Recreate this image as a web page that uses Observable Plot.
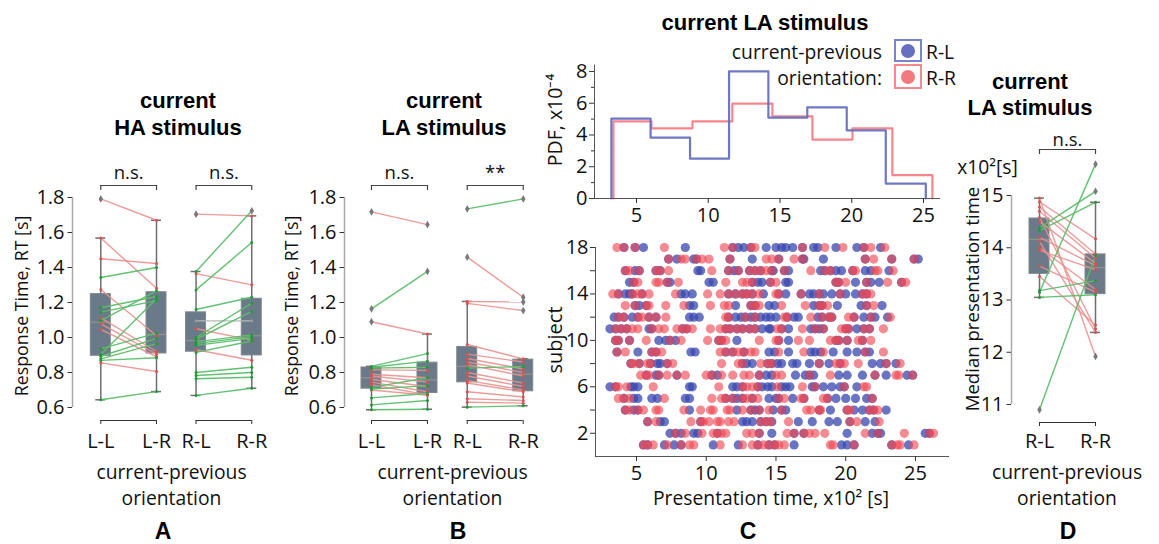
<!DOCTYPE html>
<html><head><meta charset="utf-8">
<script src="https://cdn.jsdelivr.net/npm/d3@7"></script>
<script src="https://cdn.jsdelivr.net/npm/@observablehq/plot@0.6"></script>
<style>
body{margin:0;background:#fff;}
#root{position:relative;width:1159px;height:544px;overflow:hidden;background:#fff;font-family:"Open Sans",sans-serif;color:#111;}
.t{position:absolute;white-space:nowrap;transform:translate(-50%,-50%);line-height:1;text-align:center;}
.title{font-family:"Liberation Sans",Arial,sans-serif;font-weight:bold;font-size:22px;line-height:27px;color:#000;}
.lab{font-size:19.3px;line-height:26px;}
.ylab{font-size:17.8px;transform:translate(-50%,-50%) rotate(-90deg);}
.letter{font-family:"Liberation Sans",Arial,sans-serif;font-weight:bold;font-size:23px;color:#000;}
.right{transform:translate(-100%,-50%);text-align:right;}
.left{transform:translate(0,-50%);text-align:left;}
</style></head><body><div id="root"></div>
<script>
// ---------- data ----------
const catsAB = ["L-L", "L-R", "R-L", "R-R"];
const catsD = ["R-L", "R-R"];
const rtTicks = [0.6, 0.8, 1.0, 1.2, 1.4, 1.6, 1.8];
const medTicks = [11, 12, 13, 14, 15];
const pdfTicks = [0, 2, 4, 6, 8];
const pdfMinorTicks = [1, 3, 5, 7];
const timeTicks = [5, 10, 15, 20, 25];
const subjectTicks = [2, 4, 6, 8, 10, 12, 14, 16, 18];
const subjectLabels = [2, 6, 10, 14, 18];
const sigA = ["n.s.", "n.s."];
const sigB = ["n.s.", "**"];
const sigD = ["n.s."];

// Panel A: response time, current HA stimulus (one value per subject)
const A_LL = [1.792,1.568,1.45,1.343,1.274,1.170,1.145,1.112,1.097,1.078,1.046,0.935,0.903,0.893,0.878,0.869,0.855,0.644];
const A_LR = [1.67,1.282,1.423,1.40,1.01,1.234,1.211,0.92,1.267,0.905,0.89,1.025,1.221,0.995,0.965,0.884,0.806,0.691];
const A_RL = [1.705,1.377,1.365,1.272,1.160,1.095,1.050,1.000,0.990,0.975,0.965,0.955,0.930,0.915,0.800,0.783,0.764,0.669];
const A_RR = [1.695,1.724,1.301,1.543,1.230,1.095,0.985,1.196,1.149,1.015,1.005,0.995,0.870,0.980,0.830,0.800,0.773,0.710];
// Panel B: response time, current LA stimulus
const B_LL = [1.718,1.164,1.090,0.835,0.830,0.825,0.815,0.790,0.780,0.760,0.745,0.730,0.715,0.705,0.700,0.655,0.615,0.587];
const B_LR = [1.645,1.378,1.020,0.908,0.865,0.830,0.812,0.770,0.745,0.720,0.690,0.672,0.770,0.725,0.670,0.680,0.640,0.590];
const B_RL = [1.735,1.459,1.206,1.195,0.960,0.905,0.880,0.860,0.825,0.845,0.800,0.780,0.755,0.740,0.690,0.650,0.630,0.602];
const B_RR = [1.792,1.230,1.203,1.154,0.878,0.860,0.820,0.800,0.834,0.780,0.740,0.720,0.700,0.690,0.660,0.640,0.625,0.610];
// Panel D: median presentation time (x10^2 s)
const D_RL = [10.90,13.05,13.15,13.18,13.45,13.65,13.95,14.00,14.12,14.20,14.33,14.38,14.50,14.58,14.70,14.78,14.88,14.95];
const D_RR = [13.85,13.10,15.60,13.37,12.52,13.15,13.58,13.20,12.38,13.66,14.87,15.08,13.70,12.45,13.80,13.88,14.17,11.92];
// Panel C histogram (bin edges, x10^2 s; PDF x10^-4)
const histEdgesRL = [3.25,5.98,8.73,11.45,14.19,16.9,19.65,22.37,25.16];
const histPdfRL = [5.03,3.83,2.51,8.0,5.09,5.74,4.29,0.94];
const histEdgesRR = [3.39,6.04,8.9,11.68,14.47,17.26,20.05,22.83,25.62];
const histPdfRR = [4.86,4.42,4.86,5.97,5.17,3.71,4.42,1.47];
// Panel C scatter: presentation times per subject (index 0 = subject 1)
const scatterRL = [
 [5.5,5.8,7.0,7.7,8.2,10.5,12.3,13.7,14.5,14.9,16.3,19.7,20.1,20.6,23.3,24.5],
 [7.4,7.8,8.2,9.1,9.4,10.8,13.8,14.7,16.3,17.0,20.1,21.9,22.3,22.5,25.7,26.0],
 [5.8,6.7,7.0,9.6,12.6,12.9,13.3,13.9,14.3,14.7,16.6,17.6,18.8,19.4,20.3,21.4,22.1],
 [4.2,4.8,5.1,8.8,12.2,13.2,13.5,13.8,14.8,15.4,15.7,18.1,18.9,20.1,20.6,21.2,21.7,22.0,22.9],
 [4.1,4.8,5.1,6.1,6.5,8.5,8.8,11.4,11.9,12.2,12.6,13.3,14.5,15.0,15.2,16.2,17.0,18.7,19.3,20.0,20.7,21.5,21.9],
 [3.1,3.5,4.6,4.8,5.1,8.8,9.0,11.9,12.2,12.6,13.7,14.0,14.4,14.7,15.4,15.7,16.0,17.6,17.8,18.4,19.0,19.6,19.9,20.8],
 [5.7,6.4,6.6,7.9,10.4,10.8,13.8,14.3,14.7,16.4,17.1,17.4,17.7,19.5,20.1,21.2,22.1,22.9,24.4,24.8],
 [4.6,5.2,6.0,6.5,6.7,7.2,12.6,12.9,13.3,14.4,14.7,15.1,15.4,16.2,16.5,17.4,18.1,18.8,19.6,21.9,22.5,22.9,23.6],
 [3.6,5.1,6.1,6.4,8.9,9.2,11.4,11.9,12.7,14.5,14.9,15.9,17.5,17.8,18.2,19.1,20.1,20.8,21.4,21.7],
 [3.5,3.7,4.5,6.6,7.1,7.4,7.8,10.9,11.1,12.2,15.2,15.9,19.3,19.5,20.1,21.2],
 [3.1,3.5,3.9,4.3,5.9,6.1,8.3,8.6,11.4,11.7,12.2,12.6,13.1,13.5,14.0,14.5,14.6,15.4,15.9,17.5,17.8,18.1,18.4,20.0,20.2,20.8,21.3,21.7],
 [3.4,3.7,4.1,4.7,5.1,5.9,6.4,8.8,9.1,9.5,11.6,12.1,12.5,12.8,13.2,13.5,13.9,14.3,14.6,15.0,15.8,16.3,16.6,18.0,18.3,18.8,19.0,20.6,21.3,21.8,22.1,23.0],
 [4.9,5.2,5.7,8.8,9.1,12.1,13.2,13.5,14.5,14.9,17.7,18.1,18.3,19.4,21.1,21.5,22.6],
 [3.7,4.2,4.5,4.7,5.4,8.2,8.5,9.0,11.6,12.1,12.6,12.9,13.3,14.1,15.2,15.7,16.8,17.4,17.7,18.1,18.4,19.0,19.6,20.0,20.7,21.2,21.5],
 [4.5,4.8,7.2,7.4,10.2,10.5,13.3,13.7,14.0,14.6,15.7,15.9,19.3,19.5,20.7,21.5,21.8,22.4,24.0],
 [4.2,4.9,5.2,6.4,6.7,9.4,9.6,11.6,12.0,12.3,13.1,13.5,13.9,14.7,14.8,15.6,15.9,18.2,18.5,18.9,19.3,19.7,20.5,21.4,21.8,23.1],
 [7.3,7.9,9.1,9.3,11.7,13.3,15.2,16.9,17.0,18.4,21.4,23.3,24.9,25.2],
 [4.1,4.9,5.5,8.5,11.9,12.3,12.7,13.2,14.3,15.0,15.4,15.7,16.2,16.9,17.7,18.0,19.3,20.8,21.3,22.5]
];
const scatterRR = [
 [5.5,5.8,6.2,7.2,8.2,8.8,9.1,11.0,12.6,13.3,13.7,14.1,14.5,14.9,15.2,15.6,18.9,19.1,20.6,23.3,23.7,23.9,24.9],
 [7.8,8.5,9.7,10.5,10.8,11.1,11.4,12.9,13.3,13.8,15.8,16.3,17.0,17.4,17.8,18.5,21.4,22.3,24.2,26.0,26.3],
 [5.8,6.4,8.9,9.6,9.8,10.2,10.8,11.0,11.6,12.0,13.9,14.3,14.6,15.9,20.3,20.8,22.4],
 [4.2,4.5,5.1,5.5,6.4,6.6,8.4,9.6,10.3,10.5,11.5,11.7,12.6,13.2,13.8,14.5,15.4,17.2,17.5,18.1,18.2,20.1,20.3,21.7,22.0,22.3],
 [3.7,4.1,4.5,7.0,10.4,11.1,11.4,11.9,12.6,12.9,13.3,13.7,15.2,15.6,16.8,17.0,18.4,18.7,21.9],
 [3.5,3.7,4.3,6.2,10.9,12.6,12.9,13.3,13.7,15.1,16.9,17.8,19.9,21.3,21.5],
 [5.3,5.7,5.9,6.6,7.2,7.9,8.5,10.0,10.4,11.1,11.9,12.7,13.1,13.8,15.0,15.4,17.4,18.9,22.1,23.6,23.8,24.8],
 [4.6,4.8,5.2,5.8,6.0,7.2,7.6,11.1,12.3,12.6,13.9,14.4,14.7,18.1,19.3,19.6,19.9,20.9,22.9,23.9],
 [3.6,4.2,6.1,6.4,6.8,11.0,11.4,11.9,12.3,12.7,13.2,13.5,15.2,17.0,18.4,21.4,22.7],
 [3.5,3.7,4.5,5.7,7.4,8.2,10.1,10.9,11.1,11.4,13.8,15.0,15.2,16.6,17.4,18.9,19.3,19.5,20.1,20.9,21.2,21.8],
 [3.5,3.9,4.3,4.7,5.1,6.1,6.6,7.0,7.9,8.3,8.6,9.0,10.3,11.0,11.4,11.7,12.2,12.6,13.1,13.5,15.1,15.4,16.9,17.8,18.4,19.7,20.0,20.2,21.3,21.7,22.7],
 [3.7,4.1,5.1,5.4,5.9,6.4,7.1,11.4,11.6,12.8,13.5,15.6,15.8,17.5,18.3,18.8,19.0,20.2,20.6,21.8,23.2],
 [4.2,4.9,5.7,5.9,7.1,8.4,10.3,11.3,11.6,13.2,13.5,13.8,15.4,17.1,18.1,18.3,18.7,21.5,22.0],
 [3.3,3.7,4.7,5.1,5.4,5.9,7.8,10.1,11.0,11.6,12.1,12.6,12.9,13.3,13.8,15.0,15.2,16.8,18.1,19.6,21.2,21.5,21.8],
 [4.8,5.1,6.4,6.6,7.2,8.0,11.4,12.6,12.9,13.3,14.6,15.0,19.3,19.5,20.0,21.5,23.0,24.0,24.3],
 [4.2,4.5,5.2,6.4,6.7,7.3,10.4,11.6,12.3,13.1,13.5,13.9,14.3,14.7,15.6,17.5,18.5,18.9,20.5,20.7,22.1,22.3,23.4],
 [7.3,8.2,8.5,9.3,9.7,10.2,11.7,14.3,14.7,15.2,16.3,16.9,21.4,22.0,23.3,24.9],
 [3.6,4.1,4.9,7.0,11.3,11.9,13.2,13.5,16.9,18.5,19.8,21.3,21.8,22.8]
];

// ---------- style ----------
const RED_LINE = "#e8918f", GREEN_LINE = "#5cbd6b", GREY_LINE = "#b8b8b8";
const RED_DOT = "#de4f4f", GREEN_DOT = "#23993b";
const BOX_FILL = "#6b7a88", BOX_STROKE = "#7f878f", WHISKER = "#6e6e6e", OUTLIER = "#7a7a7a";
const AXIS = "#333", SPINE = "#a8a8a8";
const RL_COLOR = "#6670c0", RR_COLOR = "#f27a7f";
const RL_DOT = "#3a48b0", RR_DOT = "#f04a55";
const FONT = '"Open Sans", sans-serif';
const TICK_FS = 20, SIG_FS = 18.5;
const GAP = 0.71;
const baseStyle = {fontFamily: FONT, fontSize: TICK_FS + "px", background: "transparent", overflow: "visible", color: "#111"};

const root = document.getElementById("root");
function place(el, left, top) {
  el.style.position = "absolute"; el.style.left = left + "px"; el.style.top = top + "px";
  root.appendChild(el);
}
function label(html, x, y, cls, extra) {
  const d = document.createElement("div");
  d.className = "t " + cls; d.innerHTML = html;
  d.style.left = x + "px"; d.style.top = y + "px";
  if (extra) Object.assign(d.style, extra);
  root.appendChild(d);
  return d;
}
const thinDiamond = {draw(ctx, size) {
  const r = Math.sqrt(size / Math.PI);
  ctx.moveTo(0, -1.3 * r); ctx.lineTo(0.75 * r, 0); ctx.lineTo(0, 1.3 * r); ctx.lineTo(-0.75 * r, 0); ctx.closePath();
}};

function stats(v) {
  const s = d3.sort(v);
  const q1 = d3.quantile(s, 0.25), med = d3.quantile(s, 0.5), q3 = d3.quantile(s, 0.75);
  const iqr = q3 - q1;
  const inside = s.filter(d => d >= q1 - 1.5 * iqr && d <= q3 + 1.5 * iqr);
  const lo = d3.min(inside), hi = d3.max(inside);
  return {q1, med, q3, lo, hi, out: s.filter(d => d < lo || d > hi)};
}

function boxPanel(c) {
  const innerW = c.width - c.mL - c.mR, innerH = c.height - c.mT - c.mB;
  const ux = innerW / (c.xDomain[1] - c.xDomain[0]);
  const uy = (c.yDomain[1] - c.yDomain[0]) / innerH;
  const bw = 10 / ux, cw = 5 / ux;
  const slots = c.slots;
  const boxes = c.series.map((v, i) => ({x: slots[i], ...stats(v)}));
  const outliers = boxes.flatMap(b => b.out.map(y => ({x: b.x, y})));
  const links = c.groups.flatMap(([a, b]) => c.series[a].map((v, k) => ({x1: slots[a], y1: v, x2: slots[b], y2: c.series[b][k]})));
  const up = links.filter(d => d.y2 > d.y1), down = links.filter(d => d.y2 < d.y1), flat = links.filter(d => d.y2 === d.y1);
  const ends = L => L.flatMap(d => [{x: d.x1, y: d.y1}, {x: d.x2, y: d.y2}]);
  const y0 = () => c.yDomain[0], y1 = () => c.yDomain[1];
  const ends2 = c.groups.flat();
  const plot = Plot.plot({
    width: c.width, height: c.height,
    marginLeft: c.mL, marginRight: c.mR, marginTop: c.mT, marginBottom: c.mB,
    style: baseStyle,
    x: {domain: c.xDomain, axis: null},
    y: {domain: c.yDomain},
    marks: [
      Plot.rect(boxes, {x1: d => d.x - bw, x2: d => d.x + bw, y1: "q1", y2: "q3", fill: BOX_FILL, stroke: BOX_STROKE, strokeWidth: 1}),
      Plot.ruleY(boxes, {y: "med", x1: d => d.x - bw, x2: d => d.x + bw, stroke: "#8e8e8e", strokeWidth: 1.5}),
      Plot.ruleX(boxes, {x: "x", y1: "lo", y2: "q1", stroke: WHISKER, strokeWidth: 1.5}),
      Plot.ruleX(boxes, {x: "x", y1: "q3", y2: "hi", stroke: WHISKER, strokeWidth: 1.5}),
      Plot.ruleY(boxes, {y: "lo", x1: d => d.x - cw, x2: d => d.x + cw, stroke: WHISKER, strokeWidth: 1.5}),
      Plot.ruleY(boxes, {y: "hi", x1: d => d.x - cw, x2: d => d.x + cw, stroke: WHISKER, strokeWidth: 1.5}),
      Plot.link(flat, {x1: "x1", y1: "y1", x2: "x2", y2: "y2", stroke: GREY_LINE, strokeWidth: 1.4}),
      Plot.link(down, {x1: "x1", y1: "y1", x2: "x2", y2: "y2", stroke: RED_LINE, strokeWidth: 1.4, strokeOpacity: 0.9}),
      Plot.link(up, {x1: "x1", y1: "y1", x2: "x2", y2: "y2", stroke: GREEN_LINE, strokeWidth: 1.4, strokeOpacity: 0.95}),
      Plot.dot(ends(flat), {x: "x", y: "y", r: 1.5, fill: "#999"}),
      Plot.dot(ends(down), {x: "x", y: "y", r: 1.5, fill: RED_DOT}),
      Plot.dot(ends(up), {x: "x", y: "y", r: 1.5, fill: GREEN_DOT}),
      Plot.dot(outliers, {x: "x", y: "y", r: 3, symbol: thinDiamond, fill: OUTLIER, stroke: "none"}),
      Plot.ruleX([c.xDomain[0]], {y1: y0, y2: y1, stroke: SPINE, strokeWidth: 1.5}),
      Plot.axisY(c.yTicks, {tickFormat: c.yFmt, tickSize: 4.5, tickPadding: 3.5, fontSize: TICK_FS, label: null, stroke: AXIS}),
      Plot.text(c.cats, {x: (d, i) => slots[i], y: y0, dy: c.labDy, text: d => d, fontSize: TICK_FS}),
      Plot.ruleY(c.groups, {y: y0, x1: g => slots[g[0]], x2: g => slots[g[1]], dy: c.botDy, stroke: AXIS}),
      Plot.ruleX(ends2, {x: i => slots[i], y1: y0, y2: () => c.yDomain[0] - 4 * uy, dy: c.botDy, stroke: AXIS}),
      Plot.ruleY(c.groups, {y: y1, x1: g => slots[g[0]], x2: g => slots[g[1]], dy: c.sigDy, stroke: "#444", strokeWidth: 1.2}),
      Plot.ruleX(ends2, {x: i => slots[i], y1: y1, y2: () => c.yDomain[1] - 5 * uy, dy: c.sigDy, stroke: "#444", strokeWidth: 1.2}),
      Plot.text(c.groups, {x: g => (slots[g[0]] + slots[g[1]]) / 2, y: y1, dy: c.sigTextDy, text: (g, i) => c.sig[i], fontSize: SIG_FS})
    ]
  });
  place(plot, c.left, c.top);
}

const slotsAB = catsAB.map((d, i) => i + Math.floor(i / 2) * (GAP - 1));

boxPanel({left: 0, top: 150, width: 275, height: 310, mL: 72, mR: 0, mT: 47, mB: 53,
  xDomain: [-0.508, 3.136], yDomain: [0.6, 1.8], yTicks: rtTicks, yFmt: d3.format(".1f"),
  cats: catsAB, series: [A_LL, A_LR, A_RL, A_RR], slots: slotsAB, groups: [[0, 1], [2, 3]], sig: sigA,
  sigDy: -12, sigTextDy: -24, botDy: 13, labDy: 34});

boxPanel({left: 275, top: 150, width: 285, height: 310, mL: 69, mR: 10, mT: 47, mB: 53,
  xDomain: [-0.482, 3.197], yDomain: [0.6, 1.8], yTicks: rtTicks, yFmt: d3.format(".1f"),
  cats: catsAB, series: [B_LL, B_LR, B_RL, B_RR], slots: slotsAB, groups: [[0, 1], [2, 3]], sig: sigB,
  sigDy: -12, sigTextDy: -24, botDy: 13, labDy: 34});

boxPanel({left: 940, top: 150, width: 219, height: 310, mL: 71, mR: 10, mT: 45, mB: 56,
  xDomain: [-0.5, 1.964], yDomain: [11, 15], yTicks: medTicks, yFmt: d3.format("d"),
  cats: catsD, series: [D_RL, D_RR], slots: [0, 1], groups: [[0, 1]], sig: sigD,
  sigDy: -46, sigTextDy: -55, botDy: 18, labDy: 37});

// ---------- Panel C histogram ----------
const stepPts = (edges, pdf) => [{x: edges[0], y: 0}, ...pdf.map((p, i) => ({x: edges[i], y: p})), {x: edges[edges.length - 1], y: 0}];
const hist = Plot.plot({
  width: 390, height: 190, marginLeft: 34, marginRight: 10, marginTop: 24.6, marginBottom: 32,
  style: baseStyle,
  x: {domain: [2.073, 26.184]}, y: {domain: [0, 8.4]},
  marks: [
    Plot.line(stepPts(histEdgesRR, histPdfRR), {x: "x", y: "y", curve: "step-after", stroke: RR_COLOR, strokeWidth: 2.2, strokeOpacity: 0.9}),
    Plot.line(stepPts(histEdgesRL, histPdfRL), {x: "x", y: "y", curve: "step-after", stroke: RL_COLOR, strokeWidth: 2.2, strokeOpacity: 0.95}),
    Plot.ruleY([0], {stroke: "#555"}),
    Plot.ruleX([2.073], {stroke: "#555"}),
    Plot.axisY(pdfTicks, {tickSize: 5, tickPadding: 2, fontSize: TICK_FS, label: null, stroke: AXIS}),
    Plot.axisY(pdfMinorTicks, {tickSize: 3, tickFormat: () => "", label: null, stroke: AXIS}),
    Plot.axisX(timeTicks, {tickSize: 5, tickPadding: 4, fontSize: TICK_FS, label: null, stroke: AXIS})
  ]
});
place(hist, 560, 40);

// ---------- Panel C scatter ----------
const flatPts = rows => rows.flatMap((r, i) => r.map(t => ({t, s: i + 1})));
const scatter = Plot.plot({
  width: 395, height: 250, marginLeft: 35, marginRight: 6, marginTop: 12, marginBottom: 29,
  style: baseStyle,
  x: {domain: [2.061, 27.44]}, y: {domain: [0, 18]},
  marks: [
    Plot.dot(flatPts(scatterRL), {x: "t", y: "s", r: 4.6, fill: RL_DOT, fillOpacity: 0.76, stroke: "none"}),
    Plot.dot(flatPts(scatterRR), {x: "t", y: "s", r: 4.6, fill: RR_DOT, fillOpacity: 0.64, stroke: "none"}),
    Plot.ruleY([0], {stroke: "#555"}),
    Plot.ruleX([2.061], {y1: () => 0, y2: () => 18, stroke: "#555"}),
    Plot.axisY(subjectTicks, {tickSize: 5, tickPadding: 2, fontSize: TICK_FS, label: null, stroke: AXIS,
      tickFormat: d => subjectLabels.includes(d) ? String(d) : ""}),
    Plot.axisX(timeTicks, {tickSize: 5, tickPadding: 4, fontSize: TICK_FS, label: null, stroke: AXIS})
  ]
});
place(scatter, 560, 235);

// ---------- text ----------
label("current<br>HA stimulus", 178, 113.5, "title");
label("current<br>LA stimulus", 444, 113.5, "title");
label("current LA stimulus", 765, 22, "title");
label("current<br>LA stimulus", 1030, 95, "title", {lineHeight: "26px"});

label("current-previous<br>orientation", 171.5, 485, "lab");
label("current-previous<br>orientation", 452.5, 485, "lab");
label("Presentation time, x10² [s]", 771, 498, "lab", {lineHeight: "1"});
label("current-previous<br>orientation", 1067, 485, "lab");

label("Response Time, RT [s]", 22, 306, "ylab");
label("Response Time, RT [s]", 292, 306, "ylab");
label("PDF, x10⁻⁴", 555, 120, "ylab", {fontSize: "19.5px"});
label("subject", 555, 340, "ylab", {fontSize: "20px"});
label("Median presentation time", 972, 299, "ylab", {fontSize: "18.6px"});
label("x10²[s]", 987.5, 167, "lab", {lineHeight: "1"});

label("A", 163, 531, "letter");
label("B", 458, 531, "letter");
label("C", 748, 531, "letter");
label("D", 1068, 531, "letter");

// legend
label("current-previous", 882, 52, "lab right", {lineHeight: "1"});
label("orientation:", 882, 78, "lab right", {lineHeight: "1"});
function legendBox(top, h, color, dot) {
  const b = document.createElement("div");
  Object.assign(b.style, {position: "absolute", left: "894px", top: top + "px", width: "28px", height: h + "px",
    border: "2px solid " + color, boxSizing: "border-box"});
  const c = document.createElement("div");
  Object.assign(c.style, {position: "absolute", left: "5px", top: (h / 2 - 2 - 7) + "px", width: "14px", height: "14px",
    borderRadius: "50%", background: dot});
  b.appendChild(c); root.appendChild(b);
}
legendBox(39, 23, "#7a84cc", RL_COLOR);
legendBox(64, 25, "#f28a8e", RR_COLOR);
label("R-L", 926, 52, "lab left", {lineHeight: "1"});
label("R-R", 926, 78, "lab left", {lineHeight: "1"});
</script></body></html>
